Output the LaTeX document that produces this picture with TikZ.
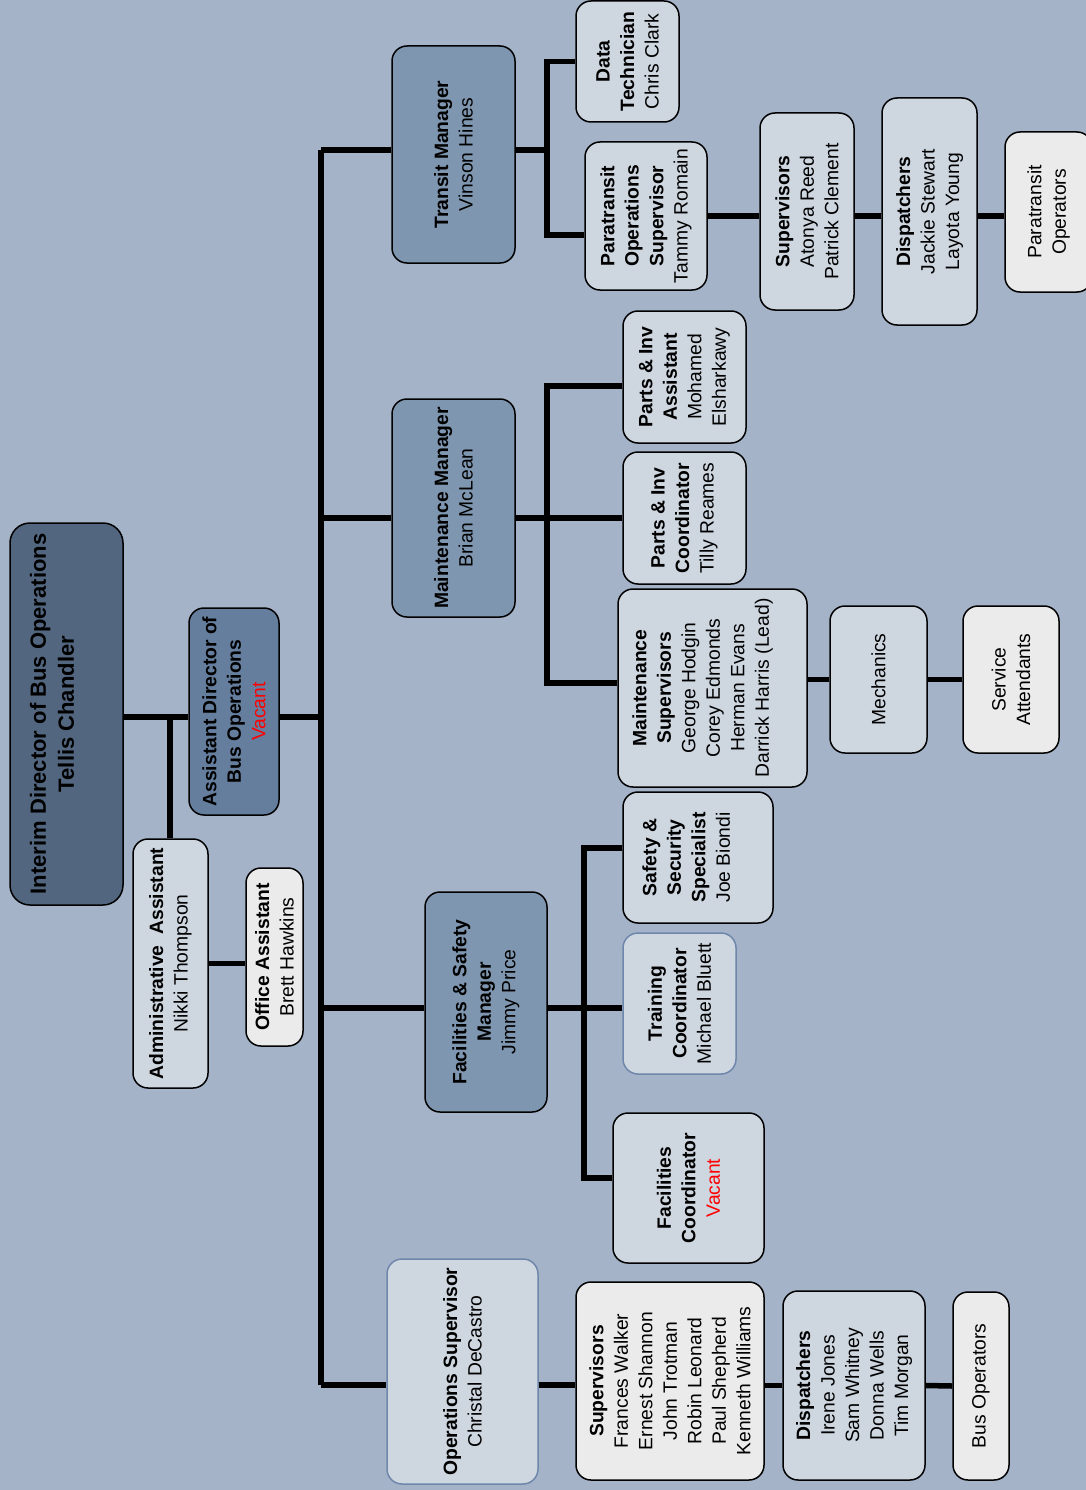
\documentclass[tikz,border=0pt]{standalone}
\usepackage{fontspec}
\setmainfont{Liberation Sans}

\definecolor{bgblue}{RGB}{164,179,200}
\definecolor{topblue}{RGB}{82,102,128}
\definecolor{asstblue}{RGB}{101,126,158}
\definecolor{mgrblue}{RGB}{127,150,176}
\definecolor{staffgray}{RGB}{206,214,224}
\definecolor{crewgray}{RGB}{235,235,235}
\definecolor{edgeblue}{RGB}{110,135,170}

\tikzset{
  box/.style={draw=black, line width=1.5pt, rounded corners=15pt, rotate=90,
    align=center, inner sep=0pt, font=\fontsize{19.3}{24.5}\selectfont},
  top/.style={box, fill=topblue, rounded corners=20pt, font=\fontsize{22}{28}\selectfont},
  asst/.style={box, fill=asstblue},
  mgr/.style={box, fill=mgrblue},
  staff/.style={box, fill=staffgray},
  crew/.style={box, fill=crewgray},
  link/.style={line width=5.5pt}
}

\begin{document}
\begin{tikzpicture}[x=1pt,y=-1pt]
\fill[bgblue] (0,0) rectangle (1086,1490);
\useasboundingbox (0,0) rectangle (1086,1490);
\clip (0,0) rectangle (1086,1490);

% director and staff
\node[top, text depth=29pt, minimum width=382pt, minimum height=113pt] (dir) at (66.5,714) {\textbf{Interim Director of Bus Operations}\\\textbf{Tellis Chandler}};
\node[asst, minimum width=207pt, minimum height=90pt] (adir) at (234,711.5) {\textbf{Assistant Director of}\\\textbf{Bus Operations}\\{\color{red}Vacant}};
\node[staff, minimum width=249pt, minimum height=75pt] (admin) at (170.5,963.5) {\textbf{Administrative\ \ Assistant}\\Nikki Thompson};
\node[crew, minimum width=178pt, minimum height=57pt] (office) at (274.5,957) {\textbf{Office Assistant}\\Brett Hawkins};

% managers
\node[mgr, minimum width=217pt, minimum height=123pt] (transit) at (453.5,154.5) {\textbf{Transit Manager}\\Vinson Hines};
\node[mgr, minimum width=218pt, minimum height=123pt] (maint) at (453.5,508) {\textbf{Maintenance Manager}\\Brian McLean};
\node[mgr, minimum width=220pt, minimum height=122pt] (facil) at (486,1002) {\textbf{Facilities \& Safety}\\\textbf{Manager}\\Jimmy Price};
\node[staff, draw=edgeblue, minimum width=225pt, minimum height=151pt] (opssup) at (462.5,1371.5) {\textbf{Operations Supervisor}\\Christal DeCastro};

% transit
\node[staff, minimum width=121pt, minimum height=103pt] (datatech) at (627.5,61.5) {\textbf{Data}\\\textbf{Technician}\\Chris Clark};
\node[staff, minimum width=148pt, minimum height=122pt] (paraops) at (646,216) {\textbf{Paratransit}\\\textbf{Operations}\\\textbf{Supervisor}\\Tammy Romain};
\node[staff, minimum width=197pt, minimum height=94pt] (parasup) at (807,211.5) {\textbf{Supervisors}\\Atonya Reed\\Patrick Clement};
\node[staff, minimum width=227pt, minimum height=95pt] (paradisp) at (929.5,211.5) {\textbf{Dispatchers}\\Jackie Stewart\\Layota Young};
\node[crew, minimum width=160pt, minimum height=87pt] (paraop) at (1048.5,212) {Paratransit\\Operators};

% maintenance
\node[staff, minimum width=132pt, minimum height=123pt] (partsasst) at (684.5,377) {\textbf{Parts \& Inv}\\\textbf{Assistant}\\Mohamed\\Elsharkawy};
\node[staff, minimum width=132pt, minimum height=123pt] (partscoord) at (684.5,518) {\textbf{Parts \& Inv}\\\textbf{Coordinator}\\Tilly Reames};
\node[staff, text depth=24pt, minimum width=198pt, minimum height=189pt] (maintsup) at (712.5,688) {\textbf{Maintenance}\\\textbf{Supervisors}\\George Hodgin\\Corey Edmonds\\Herman Evans\\Darrick Harris (Lead)};
\node[staff, minimum width=147pt, minimum height=97pt] (mech) at (878.5,679.5) {Mechanics};
\node[crew, minimum width=147pt, minimum height=96pt] (servatt) at (1011,679.5) {Service\\Attendants};

% facilities and safety
\node[staff, text depth=24pt, minimum width=131pt, minimum height=150pt] (safety) at (698,857.5) {\textbf{Safety \&}\\\textbf{Security}\\\textbf{Specialist}\\Joe Biondi};
\node[staff, draw=edgeblue, minimum width=141pt, minimum height=113pt] (training) at (679.5,1003.5) {\textbf{Training}\\\textbf{Coordinator}\\Michael Bluett};
\node[staff, minimum width=150pt, minimum height=151pt] (faccoord) at (688.5,1188) {\textbf{Facilities}\\\textbf{Coordinator}\\{\color{red}Vacant}};

% operations
\node[crew, minimum width=198pt, minimum height=188pt] (sup) at (670,1381) {\textbf{Supervisors}\\Frances Walker\\Ernest Shannon\\John Trotman\\Robin Leonard\\Paul Shepherd\\Kenneth Williams};
\node[staff, minimum width=189pt, minimum height=142pt] (disp) at (854,1385.5) {\textbf{Dispatchers}\\Irene Jones\\Sam Whitney\\Donna Wells\\Tim Morgan};
\node[crew, minimum width=188pt, minimum height=56pt] (busop) at (981,1386) {Bus Operators};

% trunk and branch points
\coordinate (da) at (170,717);
\coordinate (tt) at (321,150);
\coordinate (tm) at (321,518);
\coordinate (tf) at (321,1008);
\coordinate (to) at (321,1385);
\coordinate (tb) at (547,150);
\coordinate (mb) at (547,518);
\coordinate (fb) at (584,1008);

\draw[link] (da -| dir.south) -- (da -| adir.north);
\draw[link] (da -| adir.south) -- (da -| tt);
\draw[link] (da) -- (da |- admin.east);
\draw[link] (admin.south) -- (admin.south -| office.north);
\draw[link] (tt) -- (to);

\draw[link] (tt) -- (tt -| transit.north);
\draw[link] (tt -| transit.south) -- (tb);
\draw[link] (datatech.north) -| (tb) |- ([yshift=-19pt]paraops.north);
\draw[link] (paraops.south) -- (paraops.south -| parasup.north);
\draw[link] (paraops.south -| parasup.south) -- (paraops.south -| paradisp.north);
\draw[link] (paraops.south -| paradisp.south) -- (paraops.south -| paraop.north);

\draw[link] (tm) -- (tm -| maint.north);
\draw[link] (tm -| maint.south) -- (partscoord.north);
\draw[link] ([yshift=-9pt]partsasst.north) -| (mb) |- ([yshift=5pt]maintsup.north);
\draw[link] (maintsup.south |- mech.north) -- (mech.north);
\draw[link] (mech.south) -- (servatt.north);

\draw[link] (tf) -- (tf -| facil.north);
\draw[link] (tf -| facil.south) -- (tf -| training.north);
\draw[link] ([yshift=9.5pt]safety.north) -| (fb) |- ([yshift=10pt]faccoord.north);

\draw[link] (to) -- (to -| opssup.north);
\draw[link] (to -| opssup.south) -- (to -| sup.north);
\draw[link] (sup.south |- disp.north) -- (disp.north);
\draw[link] (disp.south) -- (busop.north);
\end{tikzpicture}
\end{document}
